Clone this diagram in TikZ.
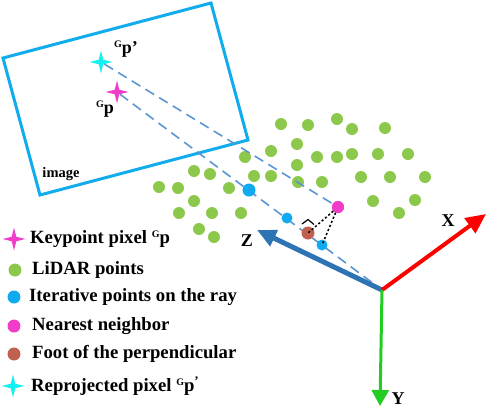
\documentclass[tikz,border=0pt]{standalone}
\usepackage{fontspec}
\setmainfont{Liberation Serif}
\usetikzlibrary{shapes.geometric,arrows.meta}
\definecolor{lidar}{HTML}{8CC84B}
\definecolor{iter}{HTML}{10AAEE}
\definecolor{nearest}{HTML}{F03CC8}
\definecolor{footc}{HTML}{C0614F}
\definecolor{reproj}{HTML}{14F0F0}
\definecolor{framec}{HTML}{10ACEC}
\definecolor{rayc}{HTML}{5A96D2}
\definecolor{zax}{HTML}{2E74B5}
\definecolor{xax}{HTML}{FF0000}
\definecolor{yax}{HTML}{22CC22}
\newcommand{\supG}{\raisebox{0.75ex}{\fontsize{10}{10}\selectfont G}}
\tikzset{
  dot/.style={circle,inner sep=0pt,minimum size=12pt},
  gdot/.style={dot,fill=lidar},
  bdot/.style={dot,fill=iter},
  mdot/.style={dot,fill=nearest},
  fdot/.style={dot,fill=footc},
  kstar/.style={star,star points=4,star point ratio=3.6,inner sep=0pt,minimum size=23pt,fill=#1},
  raydash/.style={rayc,line width=1.6pt,dash pattern=on 10pt off 6pt},
  axisarrow/.style={line width=#1},
  lbl/.style={font=\fontsize{18.7}{22}\selectfont\bfseries,anchor=west,inner sep=0pt},
  axlbl/.style={font=\fontsize{18}{20}\selectfont\bfseries,inner sep=0pt},
  dotted line/.style={black,line width=1.5pt,dash pattern=on 2.2pt off 2.2pt},
}
\begin{document}
\begin{tikzpicture}[x=1pt,y=-1pt]
\useasboundingbox (0,0) rectangle (488,408);
% image frame
\draw[framec,line width=3pt,line join=miter] (3,58) -- (211,3) -- (248,140) -- (40,195) -- cycle;
\node[font=\fontsize{14.5}{16}\selectfont\bfseries] (imglbl) at (61,174) {image};
% stars in image
\node[kstar=reproj] (rp) at (101,62) {};
\node[kstar=nearest] (kp) at (117,92) {};
\node[font=\fontsize{18}{20}\selectfont\bfseries] (rplbl) at (126,49) {\supG p’};
\node[font=\fontsize{18}{20}\selectfont\bfseries] (kplbl) at (105,109) {\supG p};
% origin
\coordinate (O) at (382,290);
\coordinate (Xt) at (486,214);
\coordinate (Yt) at (380,406);
\coordinate (Zt) at (257,230);
% green lidar points
\foreach \p [count=\i] in {(281,124),(308,125),(337,119),(352,129),(385,128),
  (297,144),(271,151),(245,157),(317,157),(337,157),(352,154),(378,154),(408,154),
  (297,165),(194,171),(210,174),(254,176),(271,176),(298,182),(322,182),(361,177),
  (390,177),(425,177),(159,187),(178,188),(229,188),(194,201),(373,201),(415,200),
  (179,213),(212,213),(241,213),(399,213),(199,229),(214,237)}
  \node[gdot] (g\i) at \p {};
% rays
\node[mdot] (nn) at (338,207) {};
\draw[raydash] (rp) -- (nn);
\draw[raydash] (kp) -- (O);
% axes
\draw[axisarrow=5pt,zax,-{Triangle[length=19pt,width=17pt]}] (O) -- (Zt);
\draw[axisarrow=4pt,xax,-{Triangle[length=20pt,width=18pt]}] (O) -- (Xt);
\draw[axisarrow=3pt,yax,-{Triangle[length=16pt,width=17pt]}] (O) -- (Yt);
\node[axlbl] (xl) at (448,221) {X};
\node[axlbl] (yl) at (398,399) {Y};
\node[axlbl] (zl) at (247,241) {Z};
% iterative points
\node[bdot,minimum size=13pt] (b1) at (249,190) {};
\node[bdot,minimum size=11pt] (b2) at (287,218) {};
\node[bdot,minimum size=11pt] (b3) at (322,245) {};
\node[fdot,minimum size=13pt] (f) at (308,233) {};
\node[mdot] (nn2) at (338,207) {};
% perpendicular
\draw[dotted line] (nn) -- (f.center);
\draw[dotted line] (nn) -- (b3.center);
\draw[black,line width=1.2pt] (302,224) -- (308,219.5) -- (314,224.5);
% legend
\node[kstar=nearest] (l1i) at (14,239) {};
\node[lbl] (l1) at (30,239) {Keypoint pixel \supG p};
\node[gdot,minimum size=13pt] (l2i) at (15,270) {};
\node[lbl] (l2) at (32,270) {LiDAR points};
\node[bdot,minimum size=13pt] (l3i) at (14,297) {};
\node[lbl] (l3) at (29,297) {Iterative points on the ray};
\node[mdot,minimum size=13pt] (l4i) at (14,326) {};
\node[lbl] (l4) at (32,326) {Nearest neighbor};
\node[fdot,minimum size=13pt] (l5i) at (14,354) {};
\node[lbl] (l5) at (32,354) {Foot of the perpendicular};
\node[kstar=reproj] (l6i) at (13,386) {};
\node[lbl] (l6) at (31,386) {Reprojected pixel \supG p\textsuperscript{’}};
\end{tikzpicture}
\end{document}
